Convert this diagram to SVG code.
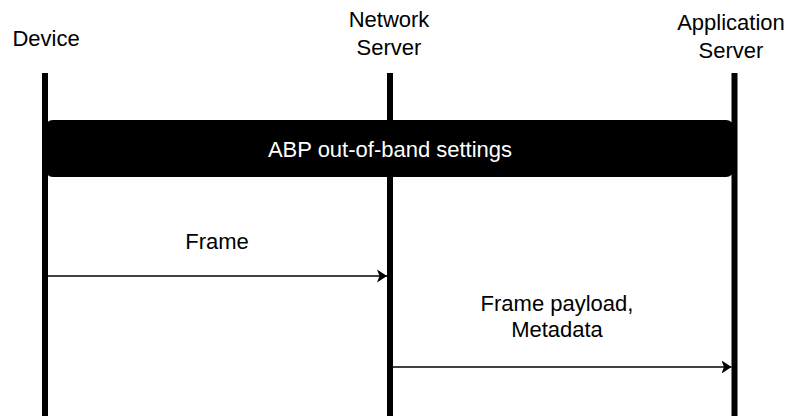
<svg xmlns="http://www.w3.org/2000/svg" width="793" height="416" viewBox="0 0 793 416">
  <style>
    text { font-family: "Liberation Sans", Arial, Helvetica, sans-serif; font-size: 22px; fill: #000; text-anchor: middle; }
    .lifeline { stroke: #000; stroke-width: 6; fill: none; }
    .msg { stroke: #000; stroke-width: 1.5; fill: none; marker-end: url(#arrow); }
    .band text { fill: #fff; }
  </style>
  <defs>
    <marker id="arrow" markerUnits="userSpaceOnUse" viewBox="0 0 10 14" markerWidth="10" markerHeight="14" refX="10" refY="7" orient="auto">
      <path d="M0,0.5 L10,7 L0,13.5 L2.5,7 Z" fill="#000"/>
    </marker>
  </defs>

  <!-- participant headers and lifelines -->
  <g id="device">
    <text x="46" y="46">Device</text>
    <line class="lifeline" x1="45" y1="73" x2="45" y2="416"/>
  </g>
  <g id="network-server">
    <text x="389" y="27">Network</text>
    <text x="389" y="55">Server</text>
    <line class="lifeline" x1="390" y1="73" x2="390" y2="416"/>
  </g>
  <g id="application-server">
    <text x="731" y="30">Application</text>
    <text x="731" y="58">Server</text>
    <line class="lifeline" x1="734.5" y1="73" x2="734.5" y2="416"/>
  </g>

  <!-- shared activation-by-personalization band -->
  <g id="abp-settings" class="band">
    <rect x="45" y="120" width="689" height="57" rx="8" ry="8" fill="#000"/>
    <text x="390" y="157">ABP out-of-band settings</text>
  </g>

  <!-- messages -->
  <g id="connectors">
    <line class="msg" x1="48" y1="276" x2="387" y2="276"/>
    <text x="217" y="249">Frame</text>
    <line class="msg" x1="393" y1="367" x2="731.5" y2="367"/>
    <text x="557" y="311">Frame payload,</text>
    <text x="557" y="337">Metadata</text>
  </g>
</svg>
